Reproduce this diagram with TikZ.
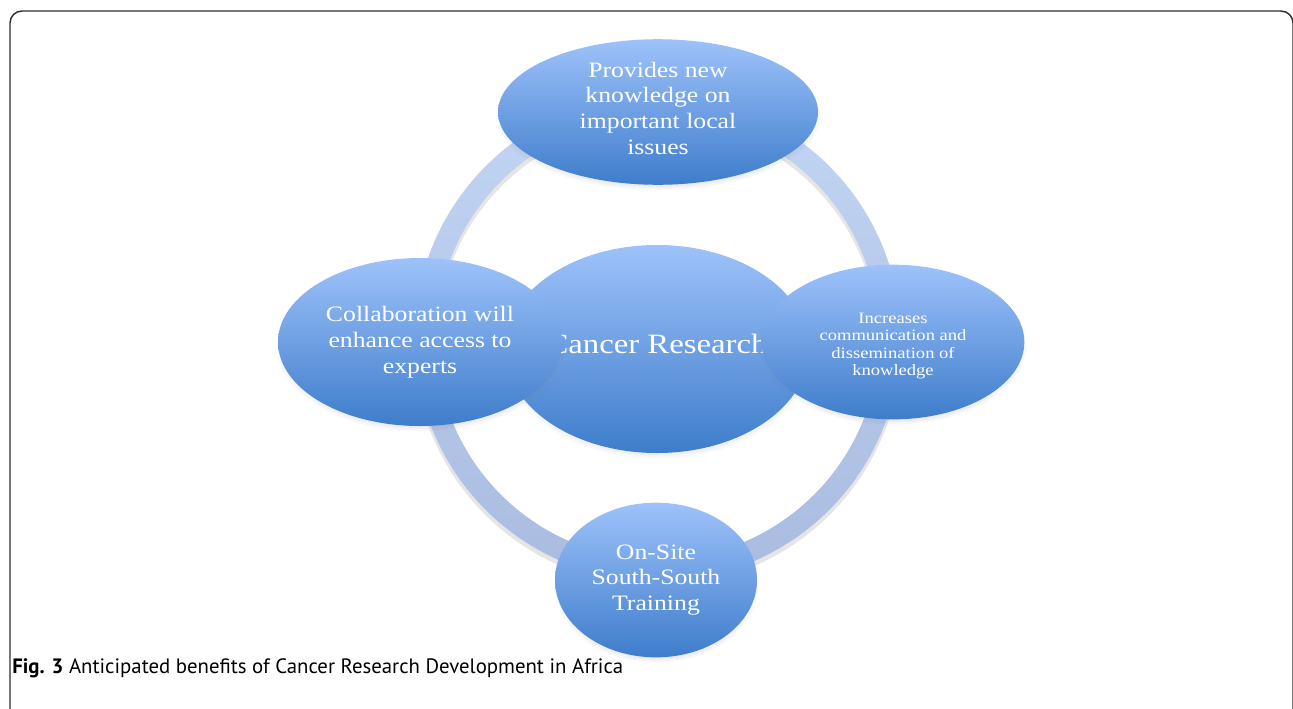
\documentclass[tikz,border=0pt]{standalone}
\usepackage{fontspec}
\setmainfont{Liberation Serif}
\newfontfamily\bubblefont[FakeStretch=1.17]{Liberation Serif}
\newfontfamily\captionfont{PT Sans}
\usetikzlibrary{shapes.geometric,shadows}

\begin{document}
\begin{tikzpicture}[x=0.75pt,y=-0.75pt,
  bubble/.style={ellipse,inner sep=0pt,text=white,align=center,
    top color=bubbleTop,bottom color=bubbleBottom,
    circular drop shadow={shadow xshift=0pt,shadow yshift=-3pt,shadow scale=1.02,opacity=0.35},
    font=\bubblefont\fontsize{16.5}{19.3}\selectfont},
  frameLine/.style={line width=1.1pt,draw=frameGray,rounded corners=9pt}]
% Colors define
\definecolor{bubbleTop}{HTML}{9EC2FA}
\definecolor{bubbleBottom}{HTML}{3E7DCB}
\definecolor{ringTop}{HTML}{C3D5F4}
\definecolor{ringBottom}{HTML}{A9BBDF}
\definecolor{frameGray}{HTML}{2E2E2E}

\useasboundingbox (0,0) rectangle (1293,708);

% Outer frame
\draw[frameLine] (10,730) -- (10,11) -- (1293,11) -- (1293,730);

% The ring behind the bubbles
\coordinate (Hub) at (657.5,338);
\fill[black,opacity=0.10,even odd rule] ([yshift=-3pt]Hub) circle[radius=244] ([yshift=-3pt]Hub) circle[radius=220.5];
\shade[top color=ringTop,bottom color=ringBottom,even odd rule] (Hub) circle[radius=243] (Hub) circle[radius=221.5];

% Bubbles
\node[bubble,minimum width=228pt,minimum height=156pt,font=\bubblefont\fontsize{21}{24}\selectfont] (Mid) at (657,349)
  {\raisebox{3.5pt}[\height][\depth]{\makebox[0pt]{Cancer Research}}};
\node[bubble,minimum width=240pt,minimum height=108pt] (Top) at (658,112)
  {\raisebox{1pt}[\height][\depth]{\begin{tabular}{@{}c@{}}Provides new\\knowledge on\\important local\\issues\end{tabular}}};
\node[bubble,minimum width=213pt,minimum height=126pt] (Left) at (420,342)
  {Collaboration will\\enhance access to\\experts};
\node[bubble,minimum width=197pt,minimum height=116pt,font=\bubblefont\fontsize{11.9}{13}\selectfont] (Right) at (893,342)
  {\raisebox{-3pt}[\height][\depth]{\begin{tabular}{@{}c@{}}Increases\\communication and\\dissemination of\\knowledge\end{tabular}}};
\node[bubble,minimum width=151.5pt,minimum height=116pt] (Bottom) at (656,580)
  {On-Site\\South-South\\Training};

% Caption
\node[anchor=base west,inner sep=0pt,font=\captionfont\fontsize{15.6}{18}\selectfont] (Caption) at (12,673)
  {\textbf{Fig. 3} Anticipated benefits of Cancer Research Development in Africa};
\end{tikzpicture}
\end{document}
